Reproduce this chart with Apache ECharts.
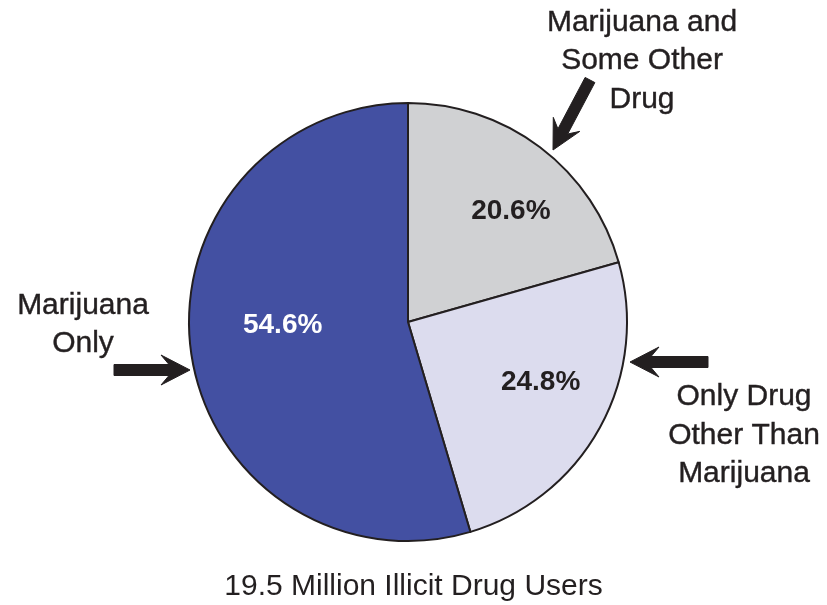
<!DOCTYPE html>
<html>
<head>
<meta charset="utf-8">
<script src="https://cdn.jsdelivr.net/npm/echarts@6/dist/echarts.min.js"></script>
<style>html,body{margin:0;padding:0;background:#fff}#c{width:827px;height:605px}</style>
</head>
<body>
<div id="c"></div>
<script>
var categories = ['Marijuana and\nSome Other\nDrug', 'Only Drug\nOther Than\nMarijuana', 'Marijuana\nOnly'];
var values = [20.6, 24.8, 54.6];
var sliceColors = ['#d0d1d3', '#dcdcee', '#4350a2'];
var labelColors = ['#231f20', '#231f20', '#ffffff'];
var titleText = '19.5 Million Illicit Drug Users';

var chart = echarts.init(document.getElementById('c'), null, {renderer: 'canvas'});
var FONT = '"Liberation Sans", Arial, sans-serif';
var labelShift = [[35, -21], [34, 6], [-14, -13]];

function arrow(x1, y1, x2, y2) {
  var dx = x2 - x1, dy = y2 - y1, len = Math.sqrt(dx * dx + dy * dy);
  var ux = dx / len, uy = dy / len, nx = -uy, ny = ux;
  var w = 5.5, L = 29, h = 15, notch = 8;
  var bx = x2 - ux * L, by = y2 - uy * L;
  var jx = x2 - ux * (L - notch), jy = y2 - uy * (L - notch);
  var pts = [
    [x1 + nx * w, y1 + ny * w], [jx + nx * w, jy + ny * w], [bx + nx * h, by + ny * h],
    [x2, y2], [bx - nx * h, by - ny * h], [jx - nx * w, jy - ny * w], [x1 - nx * w, y1 - ny * w]
  ];
  return {type: 'polygon', shape: {points: pts}, style: {fill: '#231f20', stroke: '#231f20', lineWidth: 1, lineJoin: 'round'}, silent: true};
}

var textStyle = {fontFamily: FONT, fontSize: 30, fill: '#231f20', align: 'center', verticalAlign: 'middle', lineHeight: 38.5, stroke: '#231f20', lineWidth: 0.4};

chart.setOption({
  animation: false,
  backgroundColor: '#ffffff',
  title: {
    text: titleText, left: 'center', top: 567,
    textStyle: {fontFamily: FONT, fontSize: 30, fontWeight: 'normal', color: '#231f20'}
  },
  series: [{
    type: 'pie',
    center: [408, 322],
    radius: [0, 219],
    startAngle: 90,
    clockwise: true,
    avoidLabelOverlap: false,
    itemStyle: {borderColor: '#231f20', borderWidth: 2},
    label: {
      show: true, position: 'inside',
      fontFamily: FONT, fontSize: 28, fontWeight: 'bold',
      formatter: function (p) { return p.value.toFixed(1) + '%'; }
    },
    labelLine: {show: false},
    labelLayout: function (p) { return {dx: labelShift[p.dataIndex][0], dy: labelShift[p.dataIndex][1]}; },
    emphasis: {disabled: true},
    data: values.map(function (v, i) {
      return {value: v, name: categories[i], itemStyle: {color: sliceColors[i]}, label: {color: labelColors[i]}};
    })
  }],
  graphic: [
    {type: 'text', x: 642, y: 61, style: Object.assign({text: categories[0]}, textStyle), silent: true},
    {type: 'text', x: 744, y: 435.5, style: Object.assign({text: categories[1]}, textStyle), silent: true},
    {type: 'text', x: 83, y: 324.5, style: Object.assign({text: categories[2]}, textStyle), silent: true},
    arrow(590, 80, 553, 150),
    arrow(708, 362, 630, 362),
    arrow(114, 370, 190, 370)
  ]
});
</script>
</body>
</html>
